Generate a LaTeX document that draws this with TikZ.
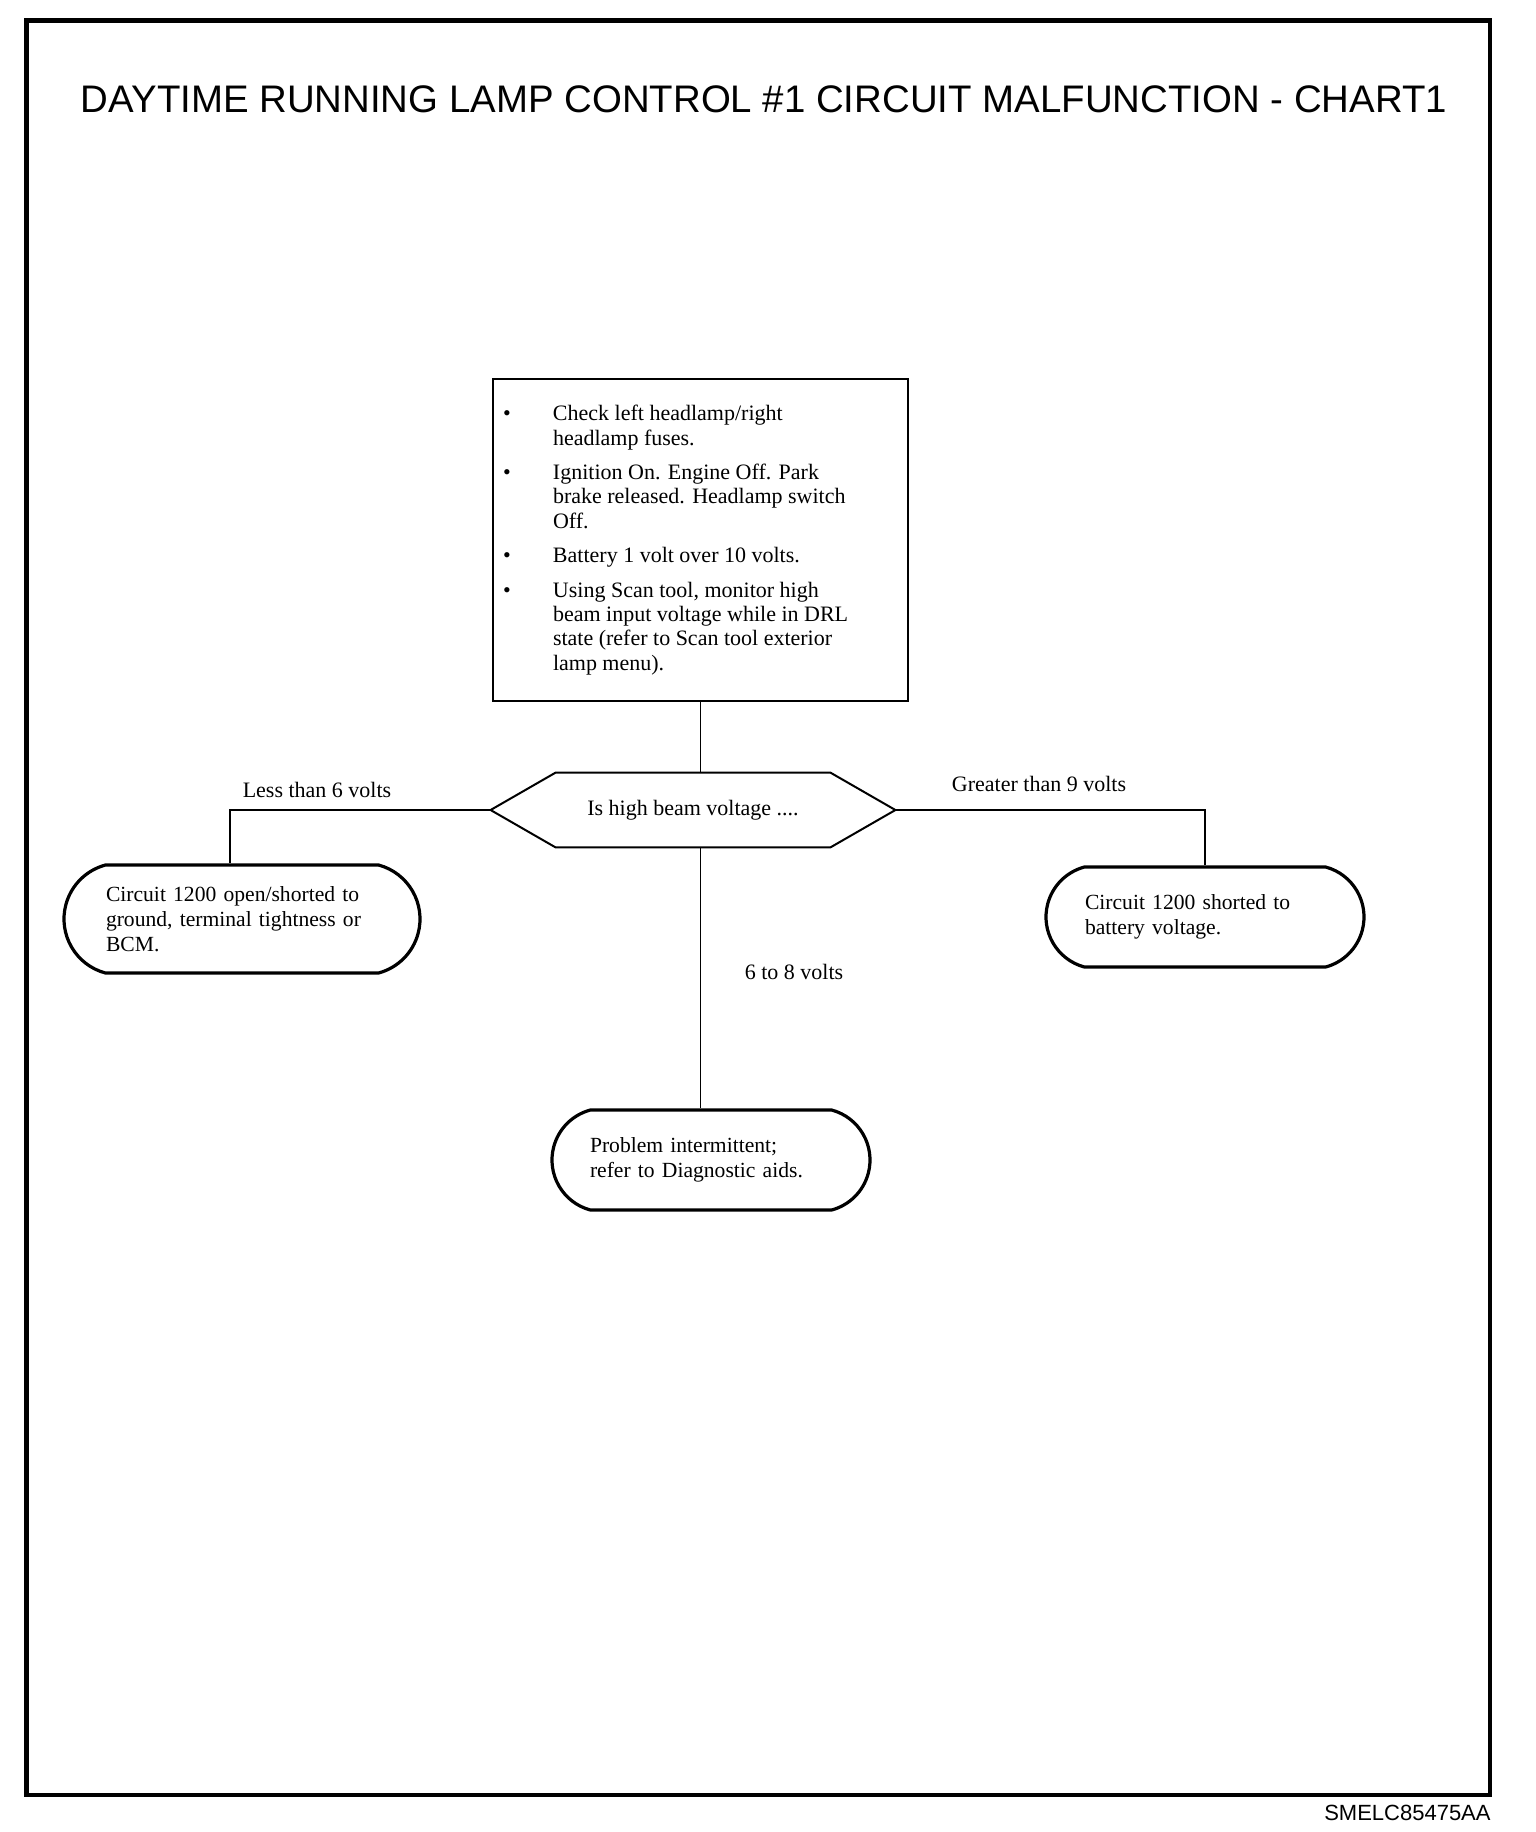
\documentclass[tikz,border=0pt]{standalone}
\usepackage{fontspec}
\setmainfont{Liberation Serif}
\newfontfamily\arialfont{Liberation Sans}
\usetikzlibrary{shapes.misc}
\newcommand\drlitem[1]{\makebox[25pt][l]{\textbullet}#1}
\newcommand\drlcont[1]{\hspace*{25pt}#1}
\begin{document}
\begin{tikzpicture}[x=0.5pt,y=-0.5pt,
  conn/.style={line width=0.9pt},
  termbox/.style={draw, rounded rectangle, rounded rectangle arc length=150, line width=1.6pt, inner sep=0pt, align=left, font=\fontsize{10.8pt}{12.6pt}\selectfont},
  lbl/.style={font=\fontsize{11pt}{13pt}\selectfont, inner sep=0pt},
  stepbox/.style={draw, line width=1.2pt, inner sep=0pt, minimum width=207.5pt, minimum height=161pt},
  hexbox/.style={inner sep=0pt, minimum width=202pt, minimum height=37pt, font=\fontsize{11pt}{13pt}\selectfont}]
\useasboundingbox (0,0) rectangle (1536,1832);
\draw[line width=2.4pt] (26.5,20.5) rectangle (1490,1795);
\node[font=\arialfont\fontsize{19.2pt}{22pt}\selectfont, anchor=base] (title) at (764,112)
  {DAYTIME RUNNING LAMP CONTROL \#1 CIRCUIT MALFUNCTION - CHART1};
\node[stepbox] (box) at (700.5,540) {\parbox{197.5pt}{\fontsize{11pt}{12.2pt}\selectfont
\drlitem{Check left headlamp/right}\\
\drlcont{headlamp fuses.}\\[5pt]
\drlitem{Ignition On. Engine Off. Park}\\
\drlcont{brake released. Headlamp switch}\\
\drlcont{Off.}\\[5pt]
\drlitem{Battery 1 volt over 10 volts.}\\[5pt]
\drlitem{Using Scan tool, monitor high}\\
\drlcont{beam input voltage while in DRL}\\
\drlcont{state (refer to Scan tool exterior}\\
\drlcont{lamp menu).}}};
\node[hexbox] (hex) at (693,810) {Is high beam voltage ....};
\draw[line width=1pt] (hex.west) -- ([xshift=32.5pt]hex.north west) -- ([xshift=-32.5pt]hex.north east)
  -- (hex.east) -- ([xshift=-32.5pt]hex.south east) -- ([xshift=32.5pt]hex.south west) -- cycle;
\node[termbox, minimum width=178pt, minimum height=54pt, text width=136pt] (lt) at (242,919)
  {Circuit 1200 open/shorted to\\ ground, terminal tightness or\\ BCM.};
\node[termbox, minimum width=159pt, minimum height=50pt, text width=120pt] (rt) at (1205,917)
  {Circuit 1200 shorted to\\ battery voltage.};
\node[termbox, minimum width=159pt, minimum height=50pt, text width=121pt] (bt) at (711,1160)
  {Problem intermittent;\\ refer to Diagnostic aids.};
\draw[conn] (box.south) -- (box.south |- hex.north);
\draw[conn] (hex.west) -| ([xshift=-6pt]lt.north);
\draw[conn] (hex.east) -| (rt.north);
\draw[conn] (box.south |- hex.south) -- (box.south |- bt.north);
\node[lbl] (l1) at (317,790) {Less than 6 volts};
\node[lbl] (l2) at (1039,784) {Greater than 9 volts};
\node[lbl] (l3) at (794,972) {6 to 8 volts};
\node[font=\arialfont\fontsize{11pt}{13pt}\selectfont, anchor=base east, inner sep=0pt] (code) at (1491,1820) {SMELC85475AA};
\end{tikzpicture}
\end{document}
